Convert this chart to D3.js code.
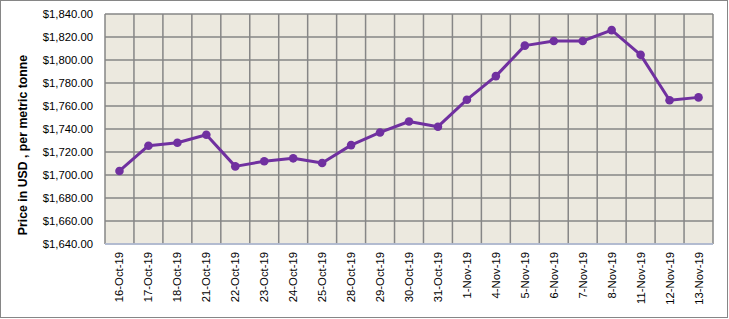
<!DOCTYPE html>
<html><head><meta charset="utf-8">
<script src="https://cdn.jsdelivr.net/npm/d3@7"></script>
<style>body{margin:0;background:#fff}svg{display:block}</style>
</head><body><svg id="c" width="729" height="319"></svg>
<script>
const dates = ["16-Oct-19","17-Oct-19","18-Oct-19","21-Oct-19","22-Oct-19","23-Oct-19","24-Oct-19","25-Oct-19","28-Oct-19","29-Oct-19","30-Oct-19","31-Oct-19","1-Nov-19","4-Nov-19","5-Nov-19","6-Nov-19","7-Nov-19","8-Nov-19","11-Nov-19","12-Nov-19","13-Nov-19"];
const prices = [1703.5,1725.5,1728,1735,1707.5,1712,1714.5,1710.5,1726,1737,1746.5,1742,1765.5,1786,1812.5,1816.5,1816.5,1826,1804.5,1765,1767.5];
const yTicks = [1640,1660,1680,1700,1720,1740,1760,1780,1800,1820,1840];

const svg = d3.select("#c");
const L=105, R=713, T=14, B=244;
svg.append("rect").attr("x",0.5).attr("y",0.5).attr("width",727).attr("height",317).attr("fill","#fff").attr("stroke","#868686");
const x = d3.scaleBand().domain(dates).range([L,R]).padding(0);
const y = d3.scaleLinear().domain([1640,1840]).range([B,T]);
svg.append("rect").attr("x",L).attr("y",T).attr("width",R-L).attr("height",B-T).attr("fill","#ECE9DF");
const g = svg.append("g");
g.selectAll("line.h").data(yTicks).join("line").attr("x1",L).attr("x2",R).attr("y1",d=>y(d)).attr("y2",d=>y(d)).attr("stroke","#868686").attr("stroke-width",1.5);
const bounds = dates.map(d=>x(d)).concat([R]);
g.selectAll("line.v").data(bounds).join("line").attr("x1",d=>d).attr("x2",d=>d).attr("y1",T).attr("y2",B).attr("stroke","#868686").attr("stroke-width",1.5);
svg.append("line").attr("x1",L).attr("x2",R).attr("y1",B).attr("y2",B).attr("stroke","#B9C4E0").attr("stroke-width",1.5);
svg.selectAll("text.yl").data(yTicks).join("text").attr("x",93).attr("y",d=>y(d)).attr("dy","0.35em").attr("text-anchor","end")
  .attr("font-family","Liberation Sans, Arial, sans-serif").attr("font-size",11.3).attr("fill","#000").text(d=>"$"+d3.format(",.2f")(d));
svg.selectAll("text.xl").data(dates).join("text")
  .attr("transform",d=>`translate(${x(d)+x.bandwidth()/2+4},252) rotate(-90)`).attr("text-anchor","end")
  .attr("font-family","Liberation Sans, Arial, sans-serif").attr("font-size",11.3).attr("fill","#000").text(d=>d);
svg.append("text").attr("transform",`translate(27,145) rotate(-90)`).attr("text-anchor","middle")
  .attr("font-family","Liberation Sans, Arial, sans-serif").attr("font-weight","bold").attr("font-size",12.3).text("Price in USD , per metric tonne");
const line = d3.line().x((d,i)=>x(dates[i])+x.bandwidth()/2).y(d=>y(d));
svg.append("path").datum(prices).attr("d",line).attr("fill","none").attr("stroke","#7030A0").attr("stroke-width",3).attr("stroke-linejoin","round");
svg.selectAll("circle").data(prices).join("circle").attr("cx",(d,i)=>x(dates[i])+x.bandwidth()/2).attr("cy",d=>y(d)).attr("r",4.3).attr("fill","#7030A0");
</script></body></html>
